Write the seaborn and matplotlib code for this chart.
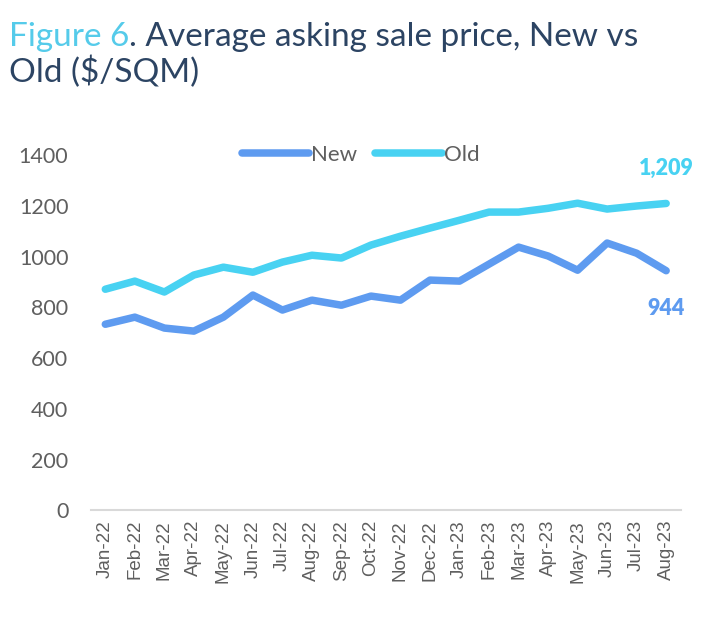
import matplotlib
matplotlib.use("Agg")
import matplotlib.pyplot as plt
import seaborn as sns
import pandas as pd

months = ["Jan-22", "Feb-22", "Mar-22", "Apr-22", "May-22", "Jun-22", "Jul-22",
          "Aug-22", "Sep-22", "Oct-22", "Nov-22", "Dec-22", "Jan-23", "Feb-23",
          "Mar-23", "Apr-23", "May-23", "Jun-23", "Jul-23", "Aug-23"]
new_vals = [733, 761, 718, 706, 761, 848, 789, 828, 808, 844, 828, 907, 903, 970,
            1037, 1002, 946, 1053, 1013, 944]
old_vals = [871, 903, 860, 927, 958, 938, 978, 1005, 994, 1045, 1080, 1112, 1143,
            1175, 1175, 1190, 1210, 1187, 1199, 1209]
y_ticks = [0, 200, 400, 600, 800, 1000, 1200, 1400]

c_new = "#5E9BF0"
c_old = "#48D2F2"
grey = "#5F5F5F"
geo = ["Lato", "DejaVu Sans"]

df = pd.DataFrame({
    "Month": months * 2,
    "Value": new_vals + old_vals,
    "Series": ["New"] * len(months) + ["Old"] * len(months),
})

sns.set_theme(style="white")
plt.rcParams["font.family"] = ["Liberation Sans", "DejaVu Sans"]

fig = plt.figure(figsize=(7.13, 6.2), dpi=100)
ax = fig.add_axes([0.127, 0.177, 0.828, 0.573])

sns.lineplot(data=df, x="Month", y="Value", hue="Series",
             palette={"New": c_new, "Old": c_old}, linewidth=5.4,
             sort=False, ax=ax, legend=True)
for ln in ax.lines:
    ln.set_solid_capstyle("round")
    ln.set_solid_joinstyle("round")
    ln.set_clip_on(False)

ax.set_xlim(-0.5, len(months) - 0.5)
ax.set_ylim(0, 1400)
ax.set_yticks(y_ticks)
ax.set_yticklabels([str(v) for v in y_ticks], fontsize=15.5, color=grey, family=geo)
ax.set_xticks(range(len(months)))
ax.set_xticklabels(months, rotation=90, fontsize=13.5, color=grey)
ax.tick_params(axis="y", length=0, pad=16)
ax.tick_params(axis="x", length=0, pad=7)
ax.set_xlabel("")
ax.set_ylabel("")
for s in ["top", "right", "left"]:
    ax.spines[s].set_visible(False)
ax.spines["bottom"].set_color("#D9D9D9")
ax.spines["bottom"].set_linewidth(1.5)

leg = ax.legend(loc="center", bbox_to_anchor=(0.458, 1.0), ncol=2, frameon=False,
                prop={"family": geo, "size": 16}, handlelength=3.0,
                columnspacing=0.8, handletextpad=0.1)
for t in leg.get_texts():
    t.set_color(grey)
for h in leg.get_lines():
    h.set_linewidth(5.4)
    h.set_solid_capstyle("round")

n = len(months) - 1
ax.annotate(f"{old_vals[-1]:,}", xy=(n, old_vals[-1]), xytext=(0, 25),
            textcoords="offset points", ha="center", va="center", family=geo,
            fontsize=15.5, fontweight="heavy", color=c_old, annotation_clip=False)
ax.annotate(f"{new_vals[-1]:,}", xy=(n, new_vals[-1]), xytext=(0, -27),
            textcoords="offset points", ha="center", va="center", family=geo,
            fontsize=15.5, fontweight="heavy", color=c_new, annotation_clip=False)

tsize = 24
y1 = 1 - 46 / 620
y2 = 1 - 82 / 620
t0 = fig.text(0.012, y1, "Figure 6", fontsize=tsize, color="#55CBEA",
              family=geo, va="baseline", ha="left")
r = fig.canvas.get_renderer()
bb = t0.get_window_extent(renderer=r)
x1 = bb.x1 / fig.bbox.width
fig.text(x1, y1, ". Average asking sale price, New vs", fontsize=tsize, color="#2C4463",
         family=geo, va="baseline", ha="left")
fig.text(0.012, y2, "Old ($/SQM)", fontsize=tsize, color="#2C4463",
         family=geo, va="baseline", ha="left")

fig.savefig("out.png", dpi=100, facecolor="white")
